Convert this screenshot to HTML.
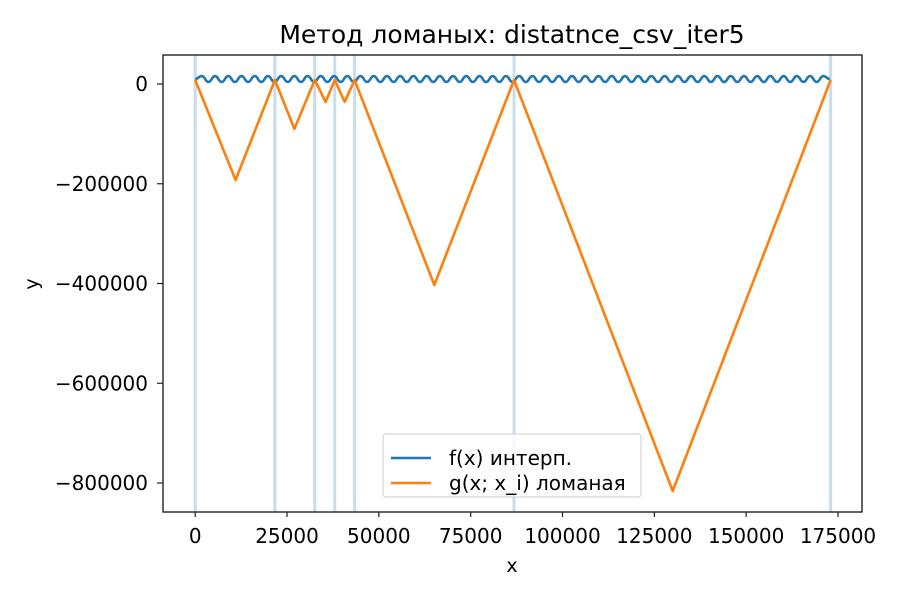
<!DOCTYPE html>
<html><head><meta charset="utf-8"><style>
body{margin:0;background:#fff;font-family:"Liberation Sans","DejaVu Sans",sans-serif}
svg text{font-family:"DejaVu Sans","Liberation Sans",sans-serif}
</style></head><body>
<svg id="c" width="900" height="600" xmlns="http://www.w3.org/2000/svg">
<rect width="900" height="600" fill="#fff"/>
<text x="512" y="43" font-size="25" text-anchor="middle">Метод ломаных: distatnce_csv_iter5</text>
<g id="plot"></g>
<rect x="163" y="55" width="699" height="457" fill="none" stroke="#222" stroke-width="1.4"/>
<g id="axes"></g>
<text x="512" y="572" font-size="19" text-anchor="middle">x</text>
<text x="38" y="284" font-size="19" text-anchor="middle" transform="rotate(-90 38 284)">y</text>
<g>
<rect x="383" y="434" width="258" height="63" rx="3" fill="#fff" fill-opacity="0.8" stroke="#ccc"/>
<line x1="391" y1="458" x2="431" y2="458" stroke="#1f77b4" stroke-width="2.5"/>
<text x="449" y="465" font-size="20">f(x) интерп.</text>
<line x1="391" y1="483" x2="431" y2="483" stroke="#ff7f0e" stroke-width="2.5"/>
<text x="449" y="490" font-size="20">g(x; x_i) ломаная</text>
</g>
</svg>
<script>
const xTicks=[0,25000,50000,75000,100000,125000,150000,175000];
const yTicks=[0,-200000,-400000,-600000,-800000];
const yTickLabels=["0","\u2212200000","\u2212400000","\u2212600000","\u2212800000"];
const nodeX=[0,21700,32550,38000,43400,86800,173000];
const gX=[0,11000,21700,27000,32550,35500,38000,40700,43400,65100,86800,130000,173000];
const gY=[8000,-192500,8000,-90000,8000,-36000,8000,-36000,8000,-403000,8000,-816000,8000];
const fStep=1800;
const fY=[10000,16000,4000,16000,4000,16000,4000,16000,4000,16000,4000,16000,4000,16000,4000,16000,4000,16000,4000,16000,4000,16000,4000,16000,4000,16000,4000,16000,4000,16000,4000,16000,4000,16000,4000,16000,4000,16000,4000,16000,4000,16000,4000,16000,4000,16000,4000,16000,4000,16000,4000,16000,4000,16000,4000,16000,4000,16000,4000,16000,4000,16000,4000,16000,4000,16000,4000,16000,4000,16000,4000,16000,4000,16000,4000,16000,4000,16000,4000,16000,4000,16000,4000,16000,4000,16000,4000,16000,4000,16000,4000,16000,4000,16000,4000,16000,10000];
const NS="http://www.w3.org/2000/svg";
const sx=v=>195.2+v*(642.8/175000);
const sy=v=>84-v*(399/800000);
const plot=document.getElementById('plot'),axes=document.getElementById('axes');
function mk(t,a,p){const e=document.createElementNS(NS,t);for(const k in a)e.setAttribute(k,a[k]);p.appendChild(e);return e;}
nodeX.forEach(x=>{
 const l=mk('line',{x1:sx(x),x2:sx(x),y1:55,y2:512,stroke:'#1f77b4','stroke-opacity':0.25,'stroke-width':3},plot);
 
 
});
let d='M'+sx(0)+' '+sy(fY[0]);
for(let i=1;i<fY.length;i++){
 const x0=sx((i-1)*fStep),x1=sx(Math.min(i*fStep,173000)),y0=sy(fY[i-1]),y1=sy(fY[i]),m=(x0+x1)/2;
 d+=` C${m} ${y0} ${m} ${y1} ${x1} ${y1}`;
}
const f=mk('path',{d:d,fill:'none',stroke:'#1f77b4','stroke-width':2.6},plot);


const g=mk('polyline',{points:gX.map((x,i)=>sx(x)+','+sy(gY[i])).join(' '),fill:'none',stroke:'#ff7f0e','stroke-width':2.6,'stroke-linejoin':'round'},plot);


xTicks.forEach(v=>{
 mk('line',{x1:sx(v),x2:sx(v),y1:512,y2:517,stroke:'#222','stroke-width':1.2},axes);
 const t=mk('text',{x:sx(v),y:543,'font-size':20,'text-anchor':'middle'},axes);t.textContent=v;
 
 
});
yTicks.forEach((v,i)=>{
 mk('line',{x1:157,x2:163,y1:sy(v),y2:sy(v),stroke:'#222','stroke-width':1.2},axes);
 const t=mk('text',{x:148,y:sy(v)+7,'font-size':20,'text-anchor':'end'},axes);t.textContent=yTickLabels[i];
 
 
});
</script>
</body></html>
